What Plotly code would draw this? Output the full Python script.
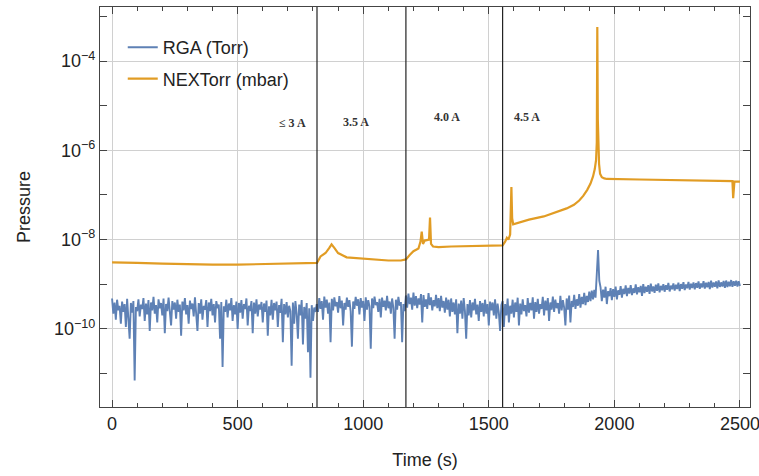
import numpy as np
import plotly.graph_objects as go

# ---------------- data ----------------
# RGA pressure (units of 1e-10 Torr), sampled every 5 s from t = 0
rga_p_e10 = [
    # 0 - 810 s
    4.8, 2.2, 3.9, 1.6, 4.5, 2.6, 3.3, 1.3, 4.1, 2.4,
    3.6, 1.1, 4.7, 2.0, 0.6, 3.8, 2.3, 4.2, 0.07, 3.1,
    2.5, 4.6, 1.9, 3.5, 2.8, 4.9, 1.5, 3.7, 2.1, 4.4,
    0.9, 3.9, 2.6, 5.2, 2.2, 3.4, 1.4, 4.6, 2.9, 3.8,
    2.0, 4.8, 0.8, 3.6, 2.5, 5.0, 2.3, 1.2, 4.2, 2.7,
    3.9, 1.7, 4.5, 2.4, 3.5, 0.7, 4.1, 2.6, 4.9, 2.1,
    3.4, 1.3, 4.3, 2.8, 3.7, 1.9, 5.1, 2.4, 0.9, 3.8,
    2.2, 4.6, 1.6, 3.3, 2.7, 4.4, 1.1, 3.9, 2.5, 4.7,
    2.0, 3.6, 1.4, 4.2, 2.9, 3.5, 0.6, 4.0, 0.14, 3.2,
    2.4, 4.5, 1.8, 3.7, 2.6, 4.9, 1.5, 3.4, 2.1, 4.1,
    1.0, 3.8, 2.3, 4.4, 1.7, 3.6, 2.8, 4.8, 1.2, 3.3,
    2.5, 4.2, 0.8, 3.9, 2.2, 4.6, 1.9, 3.5, 2.7, 4.0,
    1.4, 3.7, 2.4, 4.3, 0.7, 3.2, 2.0, 4.5, 1.6, 3.8,
    2.6, 4.1, 1.1, 3.4, 2.3, 4.7, 0.5, 3.6, 2.1, 4.0,
    1.8, 3.3, 2.5, 0.15, 3.9, 1.3, 4.2, 2.2, 0.6, 3.5,
    2.0, 4.4, 0.45, 3.1, 1.7, 3.8, 0.3, 2.9, 0.08, 3.4,
    1.5, 3.0, 2.4,
    # 815 - 1165 s
    3.6, 2.4, 4.9, 2.8, 4.2, 1.6, 5.3, 3.0, 4.5, 2.2,
    3.9, 0.5, 4.7, 2.6, 5.1, 3.2, 4.0, 2.3, 5.4, 2.9,
    4.3, 1.2, 3.8, 2.7, 5.0, 3.1, 4.4, 2.5, 0.4, 4.1,
    2.8, 5.2, 3.3, 4.6, 2.1, 4.9, 3.0, 4.2, 1.5, 5.1,
    2.7, 4.4, 3.2, 0.36, 4.8, 2.9, 5.3, 3.4, 4.0, 2.4,
    4.7, 1.8, 5.0, 3.1, 4.3, 2.6, 5.5, 2.9, 4.1, 2.2,
    4.8, 3.0, 0.6, 4.5, 2.7, 5.2, 3.3, 4.0, 0.5, 3.6,
    2.5,
    # 1170 - 1550 s
    5.6, 3.0, 6.2, 3.6, 5.0, 2.7, 6.5, 3.3, 5.4, 2.9,
    4.8, 3.5, 6.0, 1.4, 5.7, 3.1, 4.6, 2.8, 6.3, 3.4,
    5.1, 2.6, 4.4, 3.2, 5.8, 2.9, 4.9, 2.5, 5.5, 3.0,
    4.2, 2.3, 5.0, 2.7, 4.5, 1.9, 4.8, 2.4, 3.9, 2.1,
    4.6, 0.8, 3.7, 2.2, 4.3, 1.7, 4.9, 2.5, 0.6, 3.6,
    2.0, 4.4, 1.8, 3.9, 2.6, 4.7, 2.1, 3.5, 1.5, 4.2,
    2.4, 3.8, 1.9, 4.5, 2.2, 3.6, 1.2, 4.1, 2.6, 3.9,
    2.0, 4.6, 1.7, 3.7, 2.3, 0.9, 3.4,
    # 1555 - 1925 s
    4.2, 1.1, 3.6, 2.0, 4.8, 1.4, 3.3, 2.2, 4.5, 1.8,
    3.9, 2.4, 5.0, 1.2, 3.7, 2.1, 4.6, 2.5, 3.4, 1.9,
    4.9, 2.3, 3.8, 2.6, 5.1, 1.7, 4.0, 2.4, 4.7, 2.2,
    3.6, 2.8, 5.2, 2.0, 4.3, 2.6, 4.9, 1.5, 3.9, 2.7,
    5.3, 2.4, 4.5, 2.9, 3.8, 2.2, 5.5, 2.6, 4.4, 3.0,
    1.2, 4.8, 2.7, 5.6, 1.4, 4.2, 3.1, 5.8, 2.8, 4.6,
    3.3, 6.0, 3.0, 5.2, 3.6, 6.4, 3.4, 5.5, 4.0, 6.8,
    4.2, 7.2, 4.6, 7.5, 5.0,
    # 1930 - 1940 s (burst)
    20.0, 58.0, 12.0,
    # 1945 - 2500 s
    8.5, 4.2, 7.6, 5.0, 8.8, 3.6, 7.0, 5.4, 8.2, 4.4,
    7.8, 5.2, 8.9, 4.6, 7.3, 5.8, 9.1, 5.0, 7.9, 6.0,
    9.4, 5.4, 8.3, 6.2, 9.6, 5.7, 8.1, 6.4, 9.9, 5.9,
    8.6, 6.6, 9.2, 5.5, 10.1, 6.3, 8.8, 6.8, 9.5, 6.1,
    10.3, 6.9, 8.9, 6.4, 9.8, 7.1, 10.5, 6.6, 9.2, 7.3,
    10.0, 6.8, 9.5, 7.5, 10.7, 6.9, 9.3, 7.7, 10.4, 7.2,
    9.7, 7.8, 10.9, 7.0, 10.1, 7.9, 11.1, 7.4, 9.9, 8.1,
    11.3, 7.6, 10.3, 8.2, 11.0, 7.7, 10.6, 8.3, 11.5, 7.9,
    10.4, 8.5, 11.7, 8.0, 10.8, 8.6, 11.2, 7.8, 12.0, 8.4,
    10.9, 8.8, 11.6, 8.1, 12.2, 8.7, 11.0, 8.9, 11.8, 8.3,
    12.1, 8.6, 11.4, 9.0, 12.4, 8.8, 11.7, 9.2, 12.0, 8.9,
    11.6, 9.1,
]
rga_dt = 5  # seconds between RGA samples

# NEXTorr pressure (units of 1e-9 mbar)
nex_t = [0, 50, 100, 200, 300, 400, 500, 600, 700, 800, 816, 830, 850, 865, 874, 885, 900, 934,
         1000, 1050, 1100, 1150, 1170, 1185, 1200, 1220, 1228, 1233, 1238, 1245, 1262, 1266, 1270,
         1278, 1300, 1350, 1400, 1450, 1500, 1555, 1565, 1572, 1578, 1585, 1590, 1593, 1597, 1620,
         1660, 1719, 1780, 1810, 1839, 1860, 1876, 1892, 1905, 1915, 1922, 1927, 1930, 1932, 1934,
         1936, 1939, 1943, 1950, 1960, 1970, 2100, 2200, 2300, 2400, 2470, 2473, 2476, 2478, 2500]
nex_p_e9 = [3.1, 3.0, 3.0, 2.9, 2.8, 2.75, 2.75, 2.8, 2.85, 2.9, 3.0, 4.2, 5.0, 6.5, 7.8, 6.5, 5.0, 4.0,
            3.7, 3.5, 3.4, 3.4, 3.6, 4.5, 5.5, 6.3, 9.0, 15.0, 8.0, 9.5, 10.0, 31.0, 8.0,
            7.0, 6.8, 7.0, 7.1, 7.2, 7.3, 7.4, 9.0, 11.0, 10.0, 13.0, 150.0, 30.0, 22.0, 24.0,
            28.0, 33.0, 44.0, 50.0, 60.0, 75.0, 95.0, 130.0, 180.0, 260.0, 380.0, 600.0, 1500.0,
            580000.0, 5000.0, 1200.0, 500.0, 300.0, 250.0, 235.0, 228.0, 222.0, 218.0, 213.0, 208.0,
            205.0, 85.0, 200.0, 200.0, 198.0]

series_names = ["RGA (Torr)", "NEXTorr (mbar)"]
current_steps = [816, 1170, 1555]
step_labels = ["\u2264 3 A", "3.5 A", "4.0 A", "4.5 A"]
step_label_x = [717, 971, 1334, 1652]
step_label_y = [10 ** -5.39, 10 ** -5.36, 10 ** -5.25, 10 ** -5.25]

x_ticks = [0, 500, 1000, 1500, 2000, 2500]
y_ticks = [1e-10, 1e-8, 1e-6, 1e-4]
y_ticktext = ["10<sup>\u221210</sup>", "10<sup>\u22128</sup>", "10<sup>\u22126</sup>", "10<sup>\u22124</sup>"]

# ---------------- figure ----------------
BLUE = "#5E81B5"
ORANGE = "#E19C24"

rga_t = np.arange(len(rga_p_e10)) * rga_dt
rga_p = np.array(rga_p_e10) * 1e-10
nex_p = np.array(nex_p_e9) * 1e-9

fig = go.Figure()
fig.add_trace(go.Scatter(x=rga_t, y=rga_p, mode="lines", name=series_names[0],
                         line=dict(color=BLUE, width=1.9), legendgroup="a"))
fig.add_trace(go.Scatter(x=nex_t, y=nex_p, mode="lines", name=series_names[1],
                         line=dict(color=ORANGE, width=2.2), legendgroup="b"))

for xs in current_steps:
    fig.add_shape(type="line", xref="x", yref="paper", x0=xs, x1=xs, y0=0, y1=1,
                  line=dict(color="#222222", width=1.2))

for txt, xx, yy in zip(step_labels, step_label_x, step_label_y):
    fig.add_annotation(x=xx, y=np.log10(yy), xref="x", yref="y", text="<b>" + txt + "</b>",
                       showarrow=False,
                       font=dict(family="Liberation Serif", size=12, color="#333333"))

axis_font = dict(family="Liberation Sans", size=18, color="#222222")

fig.update_layout(
    width=759, height=476,
    margin=dict(l=100, r=9, t=7, b=69),
    paper_bgcolor="white", plot_bgcolor="white",
    font=axis_font,
    showlegend=True,
    legend=dict(x=0.035, y=0.945, xanchor="left", yanchor="top", bgcolor="rgba(0,0,0,0)",
                font=dict(family="Liberation Sans", size=18, color="#222222"),
                itemwidth=30, tracegroupgap=5, traceorder="grouped"),
    xaxis=dict(range=[-48, 2540], tickvals=x_ticks, ticks="inside", ticklen=7, tickcolor="#444",
               showline=True, linecolor="#444", linewidth=1.2, mirror="allticks",
               showgrid=True, gridcolor="#d0d0d0", gridwidth=1, zeroline=False,
               ticklabeloverflow="allow", automargin=False,
               title=dict(text="Time (s)", font=axis_font, standoff=20),
               tickfont=axis_font,
               minor=dict(dtick=100, ticks="inside", ticklen=4, tickcolor="#444", showgrid=False)),
    yaxis=dict(type="log", range=[-11.75, -2.79], tickvals=y_ticks, ticktext=y_ticktext,
               ticks="inside", ticklen=7, tickcolor="#444",
               showline=True, linecolor="#444", linewidth=1.2, mirror="allticks",
               showgrid=True, gridcolor="#d0d0d0", gridwidth=1, zeroline=False,
               automargin=False,
               title=dict(text="Pressure", font=axis_font, standoff=18),
               tickfont=axis_font,
               minor=dict(tickvals=[1e-11, 1e-9, 1e-7, 1e-5, 1e-3], ticks="inside", ticklen=7,
                          tickcolor="#444", showgrid=False)),
)

fig.write_html("out.html")
